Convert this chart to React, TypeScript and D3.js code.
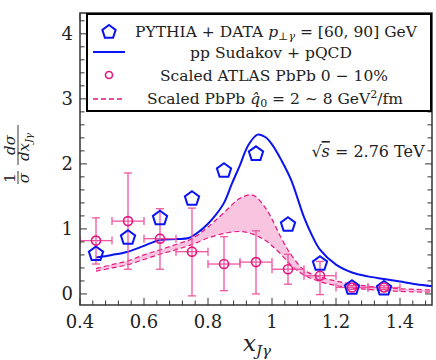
import * as d3 from 'd3';

// PYTHIA + DATA (pentagons)
const binX = [0.45, 0.55, 0.65, 0.75, 0.85, 0.95, 1.05, 1.15, 1.25, 1.35];
const pythiaY = [0.63, 0.88, 1.18, 1.48, 1.91, 2.17, 1.08, 0.48, 0.11, 0.1];

// Scaled ATLAS PbPb 0-10%
const atlasY = [0.82, 1.12, 0.85, 0.65, 0.46, 0.49, 0.38, 0.28, 0.1, 0.1];
const atlasLo = [0.46, 0.38, 0.38, -0.03, 0.05, 0.0, 0.15, -0.01, 0.07, 0.07];
const atlasHi = [1.17, 1.86, 1.31, 1.32, 0.88, 0.97, 0.61, 0.5, 0.13, 0.13];

// pp Sudakov + pQCD
const ppX = [0.45, 0.5, 0.55, 0.6, 0.65, 0.7, 0.74, 0.775, 0.8, 0.825, 0.85, 0.875, 0.9, 0.925, 0.955, 0.98, 1.0, 1.03, 1.06, 1.1, 1.125, 1.15, 1.2, 1.25, 1.3, 1.35, 1.4, 1.45, 1.5];
const ppY = [0.56, 0.6, 0.65, 0.74, 0.83, 0.845, 0.86, 0.97, 1.08, 1.22, 1.4, 1.7, 1.98, 2.28, 2.45, 2.41, 2.3, 2.05, 1.75, 1.18, 0.9, 0.68, 0.45, 0.33, 0.27, 0.23, 0.19, 0.15, 0.12];

// Scaled PbPb qhat band
const bandX = [0.45, 0.5, 0.55, 0.6, 0.65, 0.7, 0.75, 0.8, 0.85, 0.9, 0.94, 0.98, 1.0, 1.03, 1.06, 1.1, 1.15, 1.2, 1.25, 1.3, 1.35, 1.4, 1.45, 1.5];
const bandTop = [0.39, 0.45, 0.51, 0.6, 0.68, 0.76, 0.85, 1.03, 1.25, 1.47, 1.52, 1.32, 1.15, 0.85, 0.6, 0.37, 0.26, 0.2, 0.15, 0.12, 0.1, 0.08, 0.07, 0.06];
const bandBottom = [0.35, 0.4, 0.45, 0.53, 0.61, 0.68, 0.76, 0.86, 0.93, 0.96, 0.92, 0.82, 0.74, 0.6, 0.44, 0.29, 0.19, 0.13, 0.09, 0.07, 0.05, 0.04, 0.03, 0.03];

const xTickLabels = ['0.4', '0.6', '0.8', '1', '1.2', '1.4'];
const yTickLabels = ['0', '1', '2', '3', '4'];

const BLUE = '#0a14f0';
const PINK = '#e6157f';
const PINK_ERR = '#f0559f';
const BAND = '#f9c4e0';
const FONT = "'DejaVu Serif', serif";

function pentagon(cx: number, cy: number, r: number) {
  const pts = d3.range(5).map(i => {
    const a = -Math.PI / 2 + (i * 2 * Math.PI) / 5;
    return [cx + r * Math.cos(a), cy + r * Math.sin(a)];
  });
  return 'M' + pts.map(p => p.join(',')).join('L') + 'Z';
}

export default function App() {
  const width = 436;
  const height = 360;
  const margin = { top: 13, right: 4, bottom: 55, left: 80 };

  const x = d3.scaleLinear().domain([0.4, 1.5]).range([margin.left, width - margin.right]);
  const y = d3.scaleLinear().domain([-0.17, 4.32]).range([height - margin.bottom, margin.top]);

  const x0 = x.range()[0], x1 = x.range()[1];
  const y0 = y.range()[0], y1 = y.range()[1];

  const curve = d3.curveCatmullRom.alpha(0.5);
  const ppLine = d3.line<number>().x((_, i) => x(ppX[i])).y(d => y(d)).curve(curve);
  const bandArea = d3.area<number>()
    .x((_, i) => x(bandX[i]))
    .y0((_, i) => y(bandBottom[i]))
    .y1(d => y(d))
    .curve(curve);
  const bandLine = d3.line<number>().x((_, i) => x(bandX[i])).y(d => y(d)).curve(curve);

  const xTicks = d3.range(0, 28).map(i => 0.4 + i * 0.04);
  const yTicks = d3.range(0, 22).map(i => i * 0.2);
  const isMajor = (v: number, step: number) => Math.abs(v / step - Math.round(v / step)) < 1e-6;

  const frame = '#333';

  return (
    <svg width={width} height={height} style={{ position: 'absolute', left: 0, top: 0, background: '#fff', fontFamily: FONT }}>
      <defs>
        <clipPath id="plot">
          <rect x={x0} y={y1} width={x1 - x0} height={y0 - y1} />
        </clipPath>
      </defs>

      <g clipPath="url(#plot)">
        {/* PbPb band */}
        <path d={bandArea(bandTop) || ''} fill={BAND} />
        <path d={bandLine(bandTop) || ''} fill="none" stroke={PINK} strokeWidth={1.2} strokeDasharray="5,3" />
        <path d={bandLine(bandBottom) || ''} fill="none" stroke={PINK} strokeWidth={1.2} strokeDasharray="5,3" />

        {/* pp curve */}
        <path d={ppLine(ppY) || ''} fill="none" stroke={BLUE} strokeWidth={2} />

        {/* ATLAS error bars */}
        {binX.map((bx, i) => (
          <g key={'e' + i} stroke={PINK_ERR} strokeWidth={1.3} fill="none">
            <line x1={x(bx - 0.05)} x2={x(bx + 0.05)} y1={y(atlasY[i])} y2={y(atlasY[i])} />
            <line x1={x(bx - 0.05)} x2={x(bx - 0.05)} y1={y(atlasY[i]) - 4} y2={y(atlasY[i]) + 4} />
            <line x1={x(bx + 0.05)} x2={x(bx + 0.05)} y1={y(atlasY[i]) - 4} y2={y(atlasY[i]) + 4} />
            <line x1={x(bx)} x2={x(bx)} y1={y(atlasLo[i])} y2={y(atlasHi[i])} />
            <line x1={x(bx) - 4} x2={x(bx) + 4} y1={y(atlasLo[i])} y2={y(atlasLo[i])} />
            <line x1={x(bx) - 4} x2={x(bx) + 4} y1={y(atlasHi[i])} y2={y(atlasHi[i])} />
          </g>
        ))}

        {/* PYTHIA pentagons */}
        {binX.map((bx, i) => (
          <path key={'p' + i} d={pentagon(x(bx), y(pythiaY[i]) + 1, 7.5)} fill="none" stroke={BLUE} strokeWidth={2} strokeLinejoin="miter" />
        ))}

        {/* ATLAS circles */}
        {binX.map((bx, i) => (
          <circle key={'c' + i} cx={x(bx)} cy={y(atlasY[i])} r={4.5} fill="none" stroke={PINK} strokeWidth={1.6} />
        ))}
      </g>

      {/* ticks */}
      <g stroke={frame} strokeWidth={1}>
        {xTicks.map((t, i) => {
          const len = isMajor(t, 0.2) ? 7 : 4.5;
          return (
            <g key={'xt' + i}>
              <line x1={x(t)} x2={x(t)} y1={y0} y2={y0 - len} />
              <line x1={x(t)} x2={x(t)} y1={y1} y2={y1 + len} />
            </g>
          );
        })}
        {yTicks.map((t, i) => {
          const len = isMajor(t, 1) ? 7 : 4.5;
          return (
            <g key={'yt' + i}>
              <line x1={x0} x2={x0 + len} y1={y(t)} y2={y(t)} />
              <line x1={x1} x2={x1 - len} y1={y(t)} y2={y(t)} />
            </g>
          );
        })}
      </g>
      <rect x={x0} y={y1} width={x1 - x0} height={y0 - y1} fill="none" stroke={frame} strokeWidth={1.5} />

      {/* tick labels */}
      {xTickLabels.map(l => (
        <text key={'xl' + l} x={x(+l)} y={y0 + 23} fontSize={18} textAnchor="middle" fill="#222">{l}</text>
      ))}
      {yTickLabels.map(l => (
        <text key={'yl' + l} x={x0 - 7} y={y(+l) + 6} fontSize={18} textAnchor="end" fill="#222">{l}</text>
      ))}

      {/* axis labels */}
      <text x={257} y={351} fontSize={23} textAnchor="middle" fill="#222">
        <tspan fontStyle="italic">x</tspan>
        <tspan fontSize={15} dy={5} fontStyle="italic">Jγ</tspan>
      </text>
      <g transform="translate(18,155) rotate(-90)" fill="#222" fontSize={15}>
        <text x={-23} y={-3} textAnchor="middle">1</text>
        <line x1={-29} x2={-16} y1={0} y2={0} stroke="#222" strokeWidth={0.9} />
        <text x={-23} y={11} textAnchor="middle" fontStyle="italic">σ</text>
        <text x={10} y={-3} textAnchor="middle" fontStyle="italic">dσ</text>
        <line x1={-10} x2={30} y1={0} y2={0} stroke="#222" strokeWidth={0.9} />
        <text x={8} y={11} textAnchor="middle">
          <tspan fontStyle="italic">dx</tspan>
          <tspan fontSize={10} dy={3} fontStyle="italic">Jγ</tspan>
        </text>
      </g>

      <text x={368} y={157} fontSize={16} textAnchor="middle" fill="#222">
        √<tspan textDecoration="overline" fontStyle="italic">s</tspan> = 2.76 TeV
      </text>

      {/* legend */}
      <g>
        <rect x={87} y={14} width={344} height={97} fill="#fff" stroke="#000" strokeWidth={2} />
        <path d={pentagon(109, 32, 7)} fill="none" stroke={BLUE} strokeWidth={2} />
        <text x={276} y={37} fontSize={15.5} textAnchor="middle" fill="#222">
          PYTHIA + DATA <tspan fontStyle="italic">p</tspan>
          <tspan fontSize={11} dy={3} fontStyle="italic">⊥γ</tspan>
          <tspan dy={-3}> = [60,  90] GeV</tspan>
        </text>
        <line x1={93} x2={125} y1={52} y2={52} stroke={BLUE} strokeWidth={2} />
        <text x={271} y={58} fontSize={15.5} textAnchor="middle" fill="#222">pp Sudakov + pQCD</text>
        <circle cx={109} cy={75} r={3.5} fill="none" stroke={PINK} strokeWidth={1.6} />
        <text x={274} y={81} fontSize={15.5} textAnchor="middle" fill="#222">Scaled ATLAS PbPb 0 − 10%</text>
        <line x1={93} x2={125} y1={99} y2={99} stroke={PINK} strokeWidth={1.5} strokeDasharray="5,3" />
        <text x={275} y={104} fontSize={15.5} textAnchor="middle" fill="#222">
          Scaled PbPb <tspan fontStyle="italic">q̂</tspan>
          <tspan fontSize={11} dy={3}>0</tspan>
          <tspan dy={-3}> = 2 ∼ 8 GeV</tspan>
          <tspan fontSize={11} dy={-6}>2</tspan>
          <tspan dy={6}>/fm</tspan>
        </text>
      </g>
    </svg>
  );
}
